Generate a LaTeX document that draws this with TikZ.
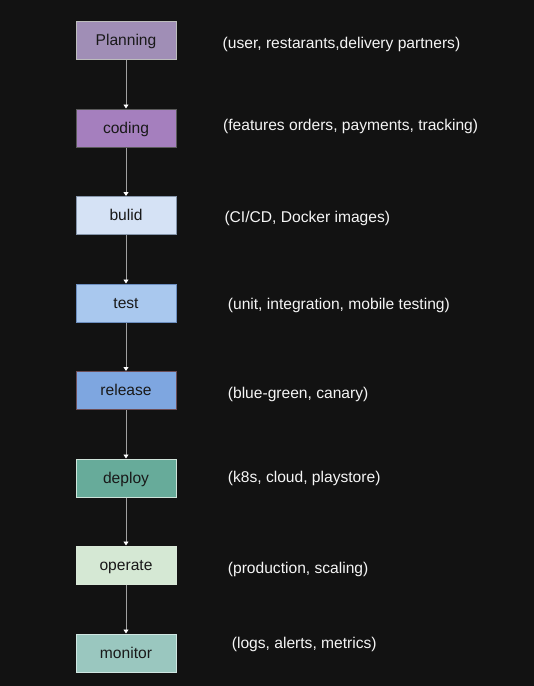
\documentclass[tikz,border=0pt]{standalone}
\usepackage{fontspec}
\setmainfont{Liberation Sans}
\usetikzlibrary{arrows.meta}
\definecolor{bg}{HTML}{121212}
\definecolor{linec}{HTML}{A0A0A0}
\definecolor{c1}{HTML}{A08EB6}\definecolor{b1}{HTML}{BDBDBD}
\definecolor{c2}{HTML}{A57FBE}\definecolor{b2}{HTML}{5A5A5A}
\definecolor{c3}{HTML}{D5E2F5}\definecolor{b3}{HTML}{8595AA}
\definecolor{c4}{HTML}{A9C8EE}\definecolor{b4}{HTML}{6C8EBF}
\definecolor{c5}{HTML}{7EA6E0}\definecolor{b5}{HTML}{6B4D56}
\definecolor{c6}{HTML}{67AB9A}\definecolor{b6}{HTML}{CFE3DA}
\definecolor{c7}{HTML}{D5E8D4}\definecolor{b7}{HTML}{D9E8D8}
\definecolor{c8}{HTML}{9AC7BF}\definecolor{b8}{HTML}{CFE6E2}
\tikzset{
  x=1pt,y=-1pt,
  stage/.style={draw, line width=1pt, minimum width=100pt, minimum height=38pt, inner sep=0pt,
    text height=12.5pt, text depth=2pt,
    font=\fontsize{15.6}{18}\selectfont, text=black!90},
  note/.style={anchor=west, inner sep=0pt, text height=11pt, text depth=3pt,
    text=white!96!black, font=\fontsize{15.6}{18}\selectfont},
  flow/.style={draw=linec, line width=0.9pt, -{Triangle[width=5pt,length=4pt,fill=white,color=white]}}
}
\begin{document}
\begin{tikzpicture}
\fill[bg] (0,0) rectangle (534,686);
\useasboundingbox (0,0) rectangle (534,686);
\node[stage, fill=c1, draw=b1] (s1) at (126,40.5) {Planning};
\node[stage, fill=c2, draw=b2] (s2) at (126,128) {coding};
\node[stage, fill=c3, draw=b3] (s3) at (126,215.5) {bulid};
\node[stage, fill=c4, draw=b4] (s4) at (126,303) {test};
\node[stage, fill=c5, draw=b5] (s5) at (126,390.5) {release};
\node[stage, fill=c6, draw=b6] (s6) at (126,478) {deploy};
\node[stage, fill=c7, draw=b7] (s7) at (126,565) {operate};
\node[stage, fill=c8, draw=b8] (s8) at (126,653) {monitor};
\foreach \a/\b in {s1/s2,s2/s3,s3/s4,s4/s5,s5/s6,s6/s7,s7/s8}
  \draw[flow] (\a.south) -- (\b.north);
\node[note] (n1) at (222.5,44.5) {(user, restarants,delivery partners)};
\node[note] (n2) at (223,126) {(features orders, payments, tracking)};
\node[note] (n3) at (224.3,218.5) {(CI/CD, Docker images)};
\node[note] (n4) at (227.7,305.5) {(unit, integration, mobile testing)};
\node[note] (n5) at (227.7,394) {(blue-green, canary)};
\node[note] (n6) at (227.7,478.5) {(k8s, cloud, playstore)};
\node[note] (n7) at (227.7,569) {(production, scaling)};
\node[note] (n8) at (231.7,644) {(logs, alerts, metrics)};
\end{tikzpicture}
\end{document}
